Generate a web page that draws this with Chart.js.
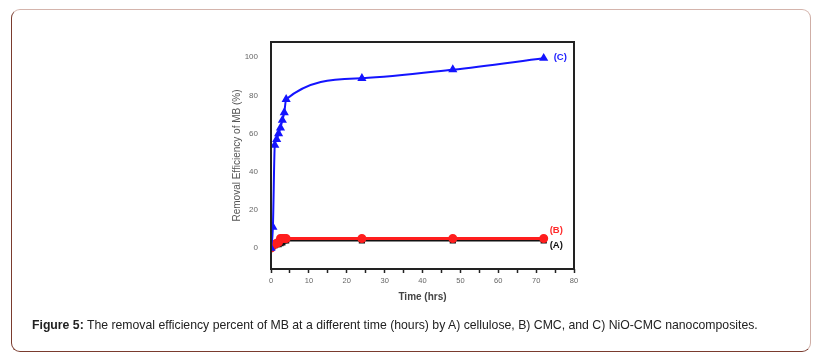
<!DOCTYPE html>
<html>
<head>
<meta charset="utf-8">
<script src="https://cdn.jsdelivr.net/npm/chart.js@4"></script>
<style>
  body { margin: 0; background: #fff; font-family: "Liberation Sans", Arial, sans-serif; }
  #card {
    position: absolute; left: 11px; top: 9px; width: 798px; height: 341px;
    border: 1.5px solid #7a3b2e; border-top-color: #d4b4ac; border-right-color: #cfaea6;
    border-radius: 9px;
  }
  #wrap { position: absolute; left: 0; top: 0; width: 840px; height: 361px; }
  #caption {
    position: absolute; left: 32px; top: 318px; font-size: 12.25px; color: #222;
    white-space: nowrap;
  }
</style>
</head>
<body>
<div id="card"></div>
<div id="wrap"><canvas id="chart" width="840" height="361"></canvas></div>
<div id="caption"><b>Figure 5:</b> The removal efficiency percent of MB at a different time (hours) by A) cellulose, B) CMC, and C) NiO-CMC nanocomposites.</div>
<script>
const timeHrs = [0, 0.5, 1, 1.5, 2, 2.5, 3, 3.5, 4, 24, 48, 72];
const cellulose = [0, 1, 1.5, 2, 2, 2.5, 3, 4, 4, 4, 4, 4];        // (A)
const cmc = [0, 1.5, 2, 2.5, 3, 5, 5, 5, 5, 5, 5, 5];               // (B)
const nioCmc = [0, 11, 54, 57, 60, 63, 67, 71, 78, 89, 93.5, 99.5]; // (C)
const yTicks = [0, 20, 40, 60, 80, 100];
const xTicks = [0, 5, 10, 15, 20, 25, 30, 35, 40, 45, 50, 55, 60, 65, 70, 75, 80];

const pts = (ys) => timeHrs.map((t, i) => ({ x: t, y: ys[i] }));

// frame round the plot and the (A)(B)(C) tags
const framePlugin = {
  id: 'frame',
  afterDraw(chart) {
    const { ctx, chartArea: a, scales } = chart;
    ctx.save();
    ctx.strokeStyle = '#222';
    ctx.lineWidth = 2;
    ctx.strokeRect(a.left, a.top, a.right - a.left, a.bottom - a.top);
    ctx.font = 'bold 9.5px "Liberation Sans", Arial, sans-serif';
    ctx.textBaseline = 'middle';
    const xs = scales.x.getPixelForValue(72);
    ctx.fillStyle = '#1a1aff';
    ctx.fillText('(C)', xs + 10, scales.y.getPixelForValue(nioCmc[11]) - 1);
    ctx.fillStyle = '#ff2a2a';
    ctx.fillText('(B)', xs + 6, scales.y.getPixelForValue(cmc[11]) - 8.5);
    ctx.fillStyle = '#111';
    ctx.fillText('(A)', xs + 6, scales.y.getPixelForValue(cellulose[11]) + 5);
    ctx.restore();
  }
};

new Chart(document.getElementById('chart'), {
  type: 'line',
  data: {
    datasets: [
      {
        label: 'A',
        data: pts(cellulose),
        borderColor: '#111',
        backgroundColor: '#111',
        borderWidth: 2,
        pointStyle: 'rect',
        pointRadius: 3,
        order: 3
      },
      {
        label: 'B',
        data: pts(cmc),
        borderColor: '#ff1e1e',
        backgroundColor: '#ff1e1e',
        borderWidth: 3,
        pointStyle: 'circle',
        pointRadius: 3,
        order: 2
      },
      {
        label: 'C',
        data: pts(nioCmc),
        borderColor: '#1414ff',
        backgroundColor: '#1414ff',
        borderWidth: 2,
        pointStyle: 'triangle',
        pointRadius: 3.3,
        cubicInterpolationMode: 'monotone',
        order: 1
      }
    ]
  },
  options: {
    responsive: false,
    animation: false,
    layout: { padding: { left: 231, top: 42, right: 266, bottom: 54 } },
    plugins: { legend: { display: false }, tooltip: { enabled: false } },
    scales: {
      x: {
        type: 'linear',
        min: 0, max: 80,
        afterBuildTicks: (s) => { s.ticks = xTicks.map(v => ({ value: v })); },
        afterFit: (s) => { s.height = 38; },
        grid: { drawOnChartArea: false, color: '#222', tickLength: 4, tickWidth: 1.5 },
        border: { display: false },
        ticks: {
          color: '#666', font: { size: 7.5, family: '"Liberation Sans", Arial' }, padding: 3, maxRotation: 0,
          autoSkip: false,
          callback: (v) => (v % 10 === 0 ? v : '')
        },
        title: {
          display: true, text: 'Time (hrs)', color: '#444',
          font: { size: 10, weight: 'bold', family: '"Liberation Sans", Arial' },
          padding: { top: 8 }
        }
      },
      y: {
        min: -11, max: 108,
        afterBuildTicks: (s) => { s.ticks = yTicks.map(v => ({ value: v })); },
        afterFit: (s) => { s.width = 40; },
        grid: { display: false },
        border: { display: false },
        ticks: { color: '#666', font: { size: 8, family: '"Liberation Sans", Arial' }, padding: 5 },
        title: {
          display: true, text: 'Removal Efficiency of MB (%)', color: '#555',
          font: { size: 10, family: '"Liberation Sans", Arial' },
          padding: { top: 0, bottom: 0 }
        }
      }
    }
  },
  plugins: [framePlugin]
});
</script>
</body>
</html>
